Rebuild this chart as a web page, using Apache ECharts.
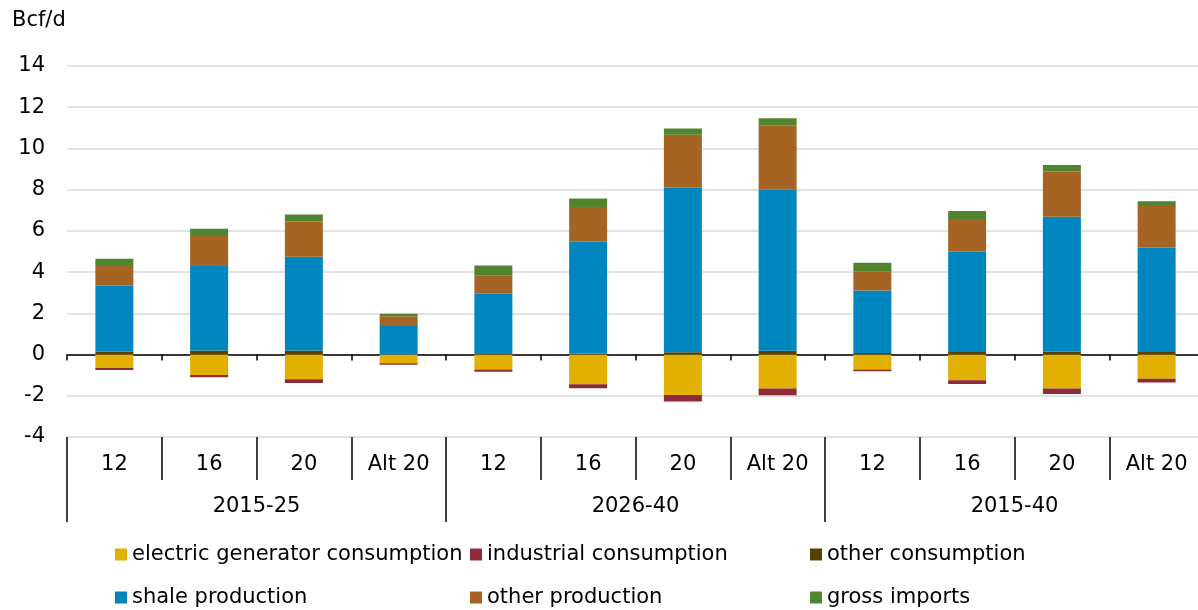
<!DOCTYPE html>
<html>
<head>
<meta charset="utf-8">
<script src="https://cdn.jsdelivr.net/npm/echarts@6/dist/echarts.min.js"></script>
<style>html,body{margin:0;padding:0;background:#fff}#c{width:1198px;height:610px}</style>
</head>
<body>
<div id="c"></div>
<script>
var categories = ['12','16','20','Alt 20','12','16','20','Alt 20','12','16','20','Alt 20'];
var groups = ['2015-25','2026-40','2015-40'];
var yTicks = [-4,-2,0,2,4,6,8,10,12,14];
var electric   = [-0.65,-0.99,-1.20,-0.42, -0.72,-1.44,-1.96,-1.65, -0.73,-1.25,-1.65,-1.17];
var industrial = [-0.10,-0.11,-0.18,-0.07, -0.12,-0.20,-0.32,-0.33, -0.08,-0.18,-0.26,-0.19];
var otherCons  = [0.15,0.20,0.20,0.00, 0.03,0.05,0.11,0.18, 0.07,0.13,0.15,0.13];
var shale      = [3.20,4.10,4.55,1.38, 2.92,5.43,7.99,7.82, 3.04,4.86,6.54,5.07];
var otherProd  = [1.00,1.45,1.70,0.48, 0.87,1.68,2.56,3.12, 0.91,1.59,2.19,2.01];
var imports    = [0.30,0.35,0.35,0.12, 0.50,0.41,0.31,0.35, 0.44,0.39,0.32,0.23];

var FONT = 'DejaVu Sans';
var FS = 21;
var names = ['electric generator consumption','industrial consumption','other consumption','shale production','other production','gross imports'];
var colors = ['#E1B000','#8E2B37','#574100','#0086BF','#A56423','#528430'];
var datas = [electric, industrial, otherCons, shale, otherProd, imports];

var gridBase = {left: 67, top: 66, width: 1137, height: 371, containLabel: false, outerBoundsMode: 'none'};
var grids = [0,1,2].map(function(){ return Object.assign({}, gridBase); });

var series = names.map(function(n, i){
  return {
    name: n, type: 'bar', stack: 'total', barWidth: 38,
    xAxisIndex: 0, yAxisIndex: 0,
    itemStyle: {color: colors[i]},
    data: datas[i]
  };
});

var legendPos = [[115,544],[470,544],[810,544],[115,587],[470,587],[810,587]];
var legends = names.map(function(n, i){
  return {
    data: [n], left: legendPos[i][0], top: legendPos[i][1], padding: 0,
    icon: 'rect', itemWidth: 12, itemHeight: 12, itemGap: 0,
    selectedMode: false,
    textStyle: {fontFamily: FONT, fontSize: FS, color: '#000', padding: [0,0,0,0]}
  };
});

var option = {
  animation: false,
  backgroundColor: '#fff',
  title: {text: 'Bcf/d', left: 12, top: 10, padding: 0,
    textStyle: {fontFamily: FONT, fontSize: FS, fontWeight: 'normal', color: '#000'}},
  grid: grids,
  legend: legends,
  xAxis: [
    {gridIndex: 0, type: 'category', data: categories, position: 'bottom',
      axisLine: {onZero: true, lineStyle: {color: '#000', width: 1.5}},
      axisTick: {show: true, length: 6, lineStyle: {color: '#000', width: 1.5}},
      axisLabel: {show: false}, splitLine: {show: false}},
    {gridIndex: 1, type: 'category', data: categories, position: 'bottom',
      axisLine: {show: false, onZero: false},
      axisTick: {show: true, length: 43, lineStyle: {color: '#000', width: 1.5}},
      axisLabel: {show: true, margin: 17, interval: 0, fontFamily: FONT, fontSize: FS, color: '#000'},
      splitLine: {show: false}},
    {gridIndex: 2, type: 'category', data: groups, position: 'bottom',
      axisLine: {show: false, onZero: false},
      axisTick: {show: true, length: 85, lineStyle: {color: '#000', width: 1.5}},
      axisLabel: {show: true, margin: 59, interval: 0, fontFamily: FONT, fontSize: FS, color: '#000'},
      splitLine: {show: false}}
  ],
  yAxis: [
    {gridIndex: 0, type: 'value', min: yTicks[0], max: yTicks[yTicks.length-1], interval: 2,
      axisLine: {show: false}, axisTick: {show: false},
      axisLabel: {margin: 22, fontFamily: FONT, fontSize: FS, color: '#000'},
      splitLine: {show: true, lineStyle: {color: '#D9D9D9', width: 1.5}}},
    {gridIndex: 1, type: 'value', min: -4, max: 14, show: false, splitLine: {show: false}},
    {gridIndex: 2, type: 'value', min: -4, max: 14, show: false, splitLine: {show: false}}
  ],
  series: series
};
var chart = echarts.init(document.getElementById('c'), null, {renderer: 'canvas'});
chart.setOption(option);
</script>
</body>
</html>
